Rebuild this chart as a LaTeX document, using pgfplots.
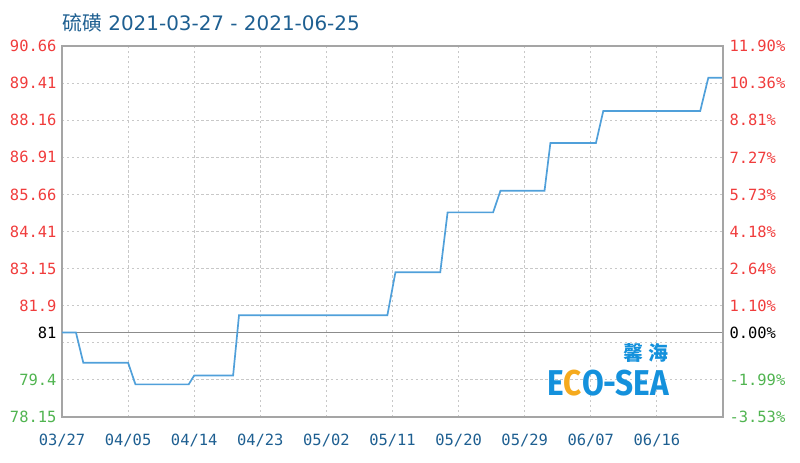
\documentclass[border=0pt]{standalone}
\usepackage{pgfplots}
\pgfplotsset{compat=1.18}
\usepackage{fontspec}
\setmainfont{DejaVu Sans}
\newfontfamily\monofont{DejaVu Sans Mono}
\newfontfamily\cjk{Noto Sans CJK SC}
\newfontfamily\logofont{Fira Sans}
\definecolor{tred}{RGB}{240,60,60}
\definecolor{tgreen}{RGB}{80,180,80}
\definecolor{tblue}{RGB}{30,95,145}
\definecolor{lineblue}{RGB}{80,160,218}
\definecolor{gridgray}{RGB}{200,200,200}
\definecolor{framegray}{RGB}{165,165,165}
\definecolor{logoblue}{RGB}{20,145,220}
\definecolor{logoorange}{RGB}{245,170,30}

\pgfplotstableread{
x y
0 81.0
1.9 81.0
2.9 79.98
9.0 79.98
10.0 79.25
17.25 79.25
18.0 79.55
23.3 79.55
24.1 81.58
44.3 81.58
45.4 83.03
51.5 83.03
52.5 85.05
58.7 85.05
59.7 85.78
65.7 85.78
66.5 87.39
72.7 87.39
73.7 88.47
86.9 88.47
88.0 89.59
90.0 89.59
}\pricedata

\begin{document}
\begin{tikzpicture}
\path[use as bounding box] (0,0) rectangle (800bp,463bp);
\node[anchor=west, text=tblue, inner sep=0pt] at (62bp,440bp)
  {\fontsize{20}{20}\selectfont{\cjk 硫磺} 2021-03-27 - 2021-06-25};
\begin{axis}[
  at={(62bp,46bp)}, anchor=south west,
  scale only axis, width=661bp, height=371bp,
  xmin=0, xmax=90, ymin=78.15, ymax=90.66,
  xtick={0,9,18,27,36,45,54,63,72,81},
  xticklabels={03/27,04/05,04/14,04/23,05/02,05/11,05/20,05/29,06/07,06/16},
  ytick={78.15,79.401,80.652,81.903,83.154,84.405,85.656,86.907,88.158,89.409,90.66},
  yticklabels={\textcolor{tgreen}{78.15},\textcolor{tgreen}{79.4},{},\textcolor{tred}{81.9},\textcolor{tred}{83.15},\textcolor{tred}{84.41},\textcolor{tred}{85.66},\textcolor{tred}{86.91},\textcolor{tred}{88.16},\textcolor{tred}{89.41},\textcolor{tred}{90.66}},
  extra y ticks={81},
  extra y tick labels={81},
  extra y tick style={grid=major, major grid style={solid, draw=framegray!85!black, line width=1pt}},
  grid=major,
  major grid style={draw=gridgray, dash pattern=on 2.5pt off 2.5pt, line width=0.9pt},
  major tick length=0pt,
  axis line style={draw=framegray, line width=1.3pt},
  ticklabel style={font=\monofont\fontsize{15.5}{15.5}\selectfont},
  xticklabel style={text=tblue, yshift=-14bp},
  yticklabel style={xshift=-2bp},
  clip=false,
]
\addplot[lineblue, line width=1.7pt, sharp plot] table[x=x,y=y] {\pricedata};
\end{axis}
\begin{axis}[
  at={(62bp,46bp)}, anchor=south west,
  scale only axis, width=661bp, height=371bp,
  xmin=0, xmax=90, ymin=78.15, ymax=90.66,
  axis x line=none,
  axis y line*=right,
  axis line style={draw=framegray, line width=1.3pt},
  ytick={78.15,79.401,80.652,81.903,83.154,84.405,85.656,86.907,88.158,89.409,90.66},
  yticklabels={\textcolor{tgreen}{-3.53\%},\textcolor{tgreen}{-1.99\%},{},\textcolor{tred}{1.10\%},\textcolor{tred}{2.64\%},\textcolor{tred}{4.18\%},\textcolor{tred}{5.73\%},\textcolor{tred}{7.27\%},\textcolor{tred}{8.81\%},\textcolor{tred}{10.36\%},\textcolor{tred}{11.90\%}},
  extra y ticks={81},
  extra y tick labels={0.00\%},
  major tick length=0pt,
  ticklabel style={font=\monofont\fontsize{15.5}{15.5}\selectfont},
  yticklabel style={xshift=3bp},
]
\addplot[draw=none] coordinates {(0,81)};
\end{axis}
\node[text=logoblue, inner sep=0pt] at (646bp,110bp)
  {\cjk\bfseries\fontsize{20}{20}\selectfont 馨 海};
\node[text=logoblue, inner sep=0pt, xscale=0.88] at (608bp,80bp)
  {\logofont\bfseries\fontsize{36}{36}\selectfont E{\color{logoorange}C}O-SEA};
\end{tikzpicture}
\end{document}
